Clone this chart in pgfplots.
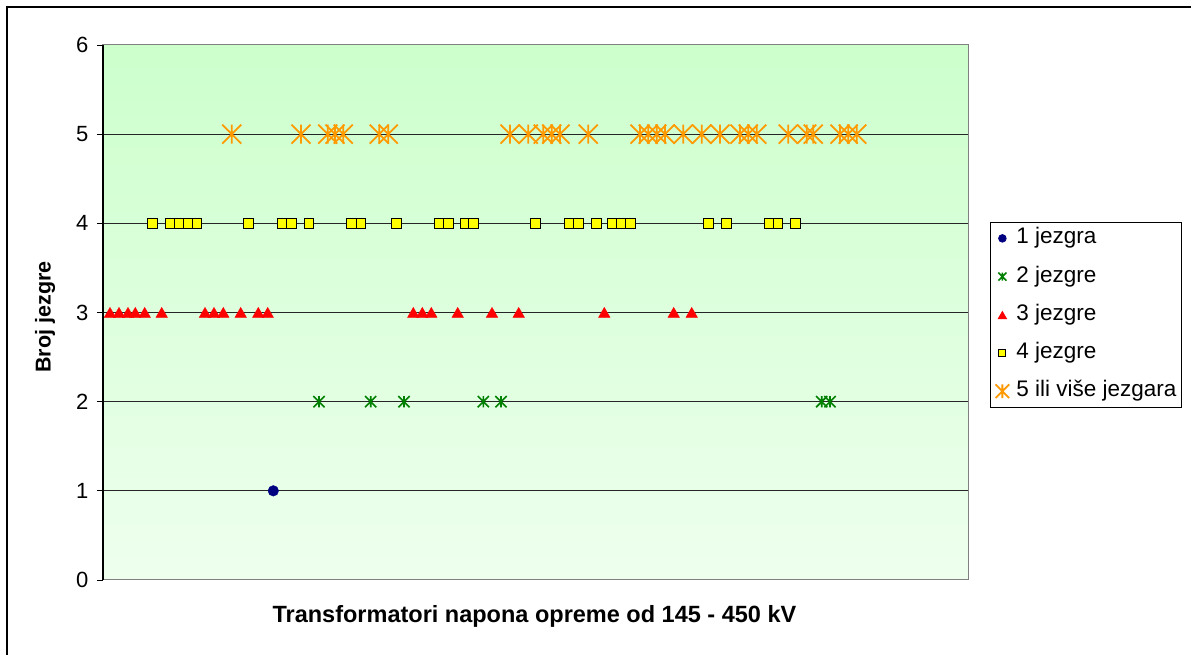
\documentclass[border=0pt]{standalone}
\usepackage{pgfplots}
\pgfplotsset{compat=1.18}
\usepackage{fontspec}
\setmainfont{Liberation Sans}
\definecolor{ser1}{RGB}{0,0,128}
\definecolor{ser2}{RGB}{0,128,0}
\definecolor{ser3}{RGB}{255,0,0}
\definecolor{ser4}{RGB}{255,255,0}
\definecolor{ser5}{RGB}{255,153,0}
\definecolor{bgtop}{RGB}{204,255,204}
\definecolor{bgbot}{RGB}{238,255,238}
\pgfdeclareplotmark{xstar}{%
  \pgfpathmoveto{\pgfqpoint{-\pgfplotmarksize}{-\pgfplotmarksize}}%
  \pgfpathlineto{\pgfqpoint{\pgfplotmarksize}{\pgfplotmarksize}}%
  \pgfpathmoveto{\pgfqpoint{-\pgfplotmarksize}{\pgfplotmarksize}}%
  \pgfpathlineto{\pgfqpoint{\pgfplotmarksize}{-\pgfplotmarksize}}%
  \pgfpathmoveto{\pgfqpoint{0pt}{-\pgfplotmarksize}}%
  \pgfpathlineto{\pgfqpoint{0pt}{\pgfplotmarksize}}%
  \pgfusepathqstroke}
\begin{document}
\begin{tikzpicture}[x=1pt,y=1pt]
\useasboundingbox (0,0) rectangle (1191,655);
\draw[black,line width=2pt] (7,0) -- (7,648) -- (1191,648);
\begin{axis}[
  at={(103pt,75pt)}, anchor=south west,
  width=865pt, height=535pt, scale only axis,
  xmin=103, xmax=968, ymin=0, ymax=6,
  xtick=\empty,
  ytick={0,1,2,3,4,5,6},
  /pgf/number format/assume math mode=true,
  ticklabel style={font=\fontsize{22}{26}\selectfont},
  yticklabel style={xshift=-5pt},
  tick align=outside, ytick pos=left,
  major tick length=6pt,
  tick style={black,line width=0.8pt},
  ymajorgrids,
  grid style={black!85,line width=1pt},
  axis line style={gray,line width=1pt},
  axis background/.style={top color=bgtop,bottom color=bgbot},
  clip=false,
  xlabel={\textbf{Transformatori napona opreme od 145 - 450 kV}},
  xlabel style={font=\fontsize{23.5}{27}\selectfont, at={(axis description cs:0.4988,-0.069)}, anchor=center},
  ylabel={\textbf{Broj jezgre}},
  ylabel style={font=\fontsize{21.5}{25}\selectfont, at={(axis description cs:-0.067,0.4916)}, anchor=center},
  legend style={at={(axis description cs:1.0254,0.6692)}, anchor=north west,
    draw=black, line width=0.8pt, fill=white,
    font=\fontsize{22.5}{27}\selectfont,
    inner xsep=3pt, inner ysep=3.5pt,
    nodes={text height=16pt, text depth=5pt, inner sep=2pt},
    row sep=13.2pt,
    /tikz/every odd column/.append style={column sep=4pt}},
  legend cell align=left,
  legend image code/.code={%
    \path[draw=none,fill=none] (0pt,-4pt) rectangle (17pt,4pt);
    \draw[#1,/tikz/every mark/.append style={scale=0.72}] plot coordinates {(9pt,0pt)};},
  after end axis/.code={\draw[black,line width=1.5pt] (rel axis cs:0,0) -- (rel axis cs:0,1);},
]
\addplot[only marks, mark=*, mark size=5.3pt, color=ser1, mark options={fill=ser1}]
 coordinates {(273.3,1)};
\addlegendentry{1 jezgra}
\addplot[only marks, mark=xstar, mark size=5.6pt, color=ser2, mark options={line width=1.6pt}]
 coordinates {(319,2) (370.7,2) (404,2) (483.3,2) (501,2) (821.7,2) (830,2)};
\addlegendentry{2 jezgre}
\addplot[only marks, mark=triangle*, mark size=6.7pt, color=ser3, mark options={fill=ser3, yshift=-1.6pt}]
 coordinates {(110,3) (119,3) (128,3) (135.3,3) (144.7,3) (161.7,3) (205,3) (214,3) (223.3,3) (240.7,3) (258.3,3) (267.7,3) (413.3,3) (422.3,3) (431.3,3) (457.7,3) (492,3) (518.7,3) (604.3,3) (673.7,3) (691.7,3)};
\addlegendentry{3 jezgre}
\addplot[only marks, mark=square*, mark size=4.8pt, color=black, mark options={fill=ser4, line width=1pt}]
 coordinates {(152.3,4) (170,4) (179,4) (188,4) (197,4) (248.7,4) (282.3,4) (291.3,4) (309,4) (351.7,4) (361,4) (396.7,4) (439,4) (448.3,4) (465.7,4) (473.7,4) (535.7,4) (569.3,4) (578.3,4) (596.3,4) (612,4) (621.3,4) (630.3,4) (708.7,4) (726.7,4) (769,4) (778,4) (795.7,4)};
\addlegendentry{4 jezgre}
\addplot[only marks, mark=xstar, mark size=9.5pt, color=ser5, mark options={line width=1.8pt}]
 coordinates {(231.7,5) (301,5) (327.7,5) (335,5) (343.3,5) (379.3,5) (388.3,5) (510,5) (528.3,5) (543.3,5) (551.7,5) (560,5) (588.3,5) (640,5) (648.3,5) (656.7,5) (665,5) (683.3,5) (701.7,5) (720,5) (740,5) (748.3,5) (756.7,5) (788.3,5) (806.7,5) (813.3,5) (840,5) (848.3,5) (856.7,5)};
\addlegendentry{5 ili više jezgara}
\end{axis}
\end{tikzpicture}
\end{document}
